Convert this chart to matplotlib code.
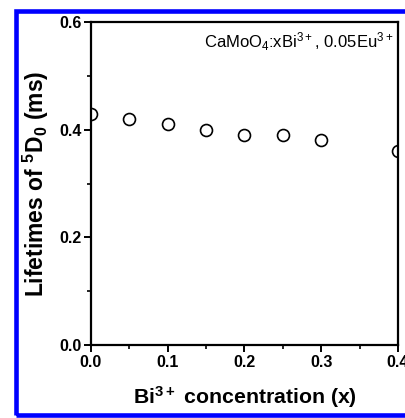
import matplotlib
matplotlib.use("Agg")
import matplotlib.pyplot as plt
from matplotlib.patches import Rectangle
from matplotlib.ticker import MultipleLocator, FormatStrFormatter

plt.rcParams["font.family"] = ["Liberation Sans", "DejaVu Sans"]
plt.rcParams["mathtext.default"] = "regular"

# Bi3+ content and 5D0 lifetimes (ms)
bi_conc = [0.0, 0.05, 0.10, 0.15, 0.20, 0.25, 0.30, 0.40]
lifetime = [0.43, 0.42, 0.41, 0.40, 0.39, 0.39, 0.38, 0.36]

fig = plt.figure(figsize=(4.06, 4.18), dpi=100)
ax = fig.add_axes([0.2241, 0.1746, 0.7562, 0.7727])

ax.plot(bi_conc, lifetime, linestyle="none", marker="o", markersize=8.6,
        markerfacecolor="white", markeredgecolor="black", markeredgewidth=1.2)

ax.set_xlim(0, 0.4)
ax.set_ylim(0, 0.6)
ax.xaxis.set_major_locator(MultipleLocator(0.1))
ax.xaxis.set_minor_locator(MultipleLocator(0.05))
ax.yaxis.set_major_locator(MultipleLocator(0.2))
ax.yaxis.set_minor_locator(MultipleLocator(0.1))
ax.xaxis.set_major_formatter(FormatStrFormatter("%.1f"))
ax.yaxis.set_major_formatter(FormatStrFormatter("%.1f"))

for s in ax.spines.values():
    s.set_linewidth(1.6)
ax.tick_params(which="major", direction="out", length=5, width=1.4,
               labelsize=11.5, pad=2)
ax.tick_params(which="minor", direction="out", length=3, width=1.2)
for lab in ax.get_xticklabels() + ax.get_yticklabels():
    lab.set_fontweight("bold")

ax.set_xlabel("Bi$^{3+}$ concentration (x)", fontsize=15.3, fontweight="bold",
              labelpad=10)
ax.set_ylabel("Lifetimes of $^{5}$D$_{0}$ (ms)", fontsize=16.5,
              fontweight="bold", labelpad=6)

ax.text(0.985, 0.975, "CaMoO$_4$:xBi$^{3+}$, 0.05Eu$^{3+}$", transform=ax.transAxes,
        ha="right", va="top", fontsize=12)

# blue frame around the figure
fig.add_artist(Rectangle((0.0382, 0.0072), 1.2, 0.9665, transform=fig.transFigure,
                         fill=False, edgecolor="#0000ff", linewidth=3.3))

fig.savefig("out.png", dpi=100)
